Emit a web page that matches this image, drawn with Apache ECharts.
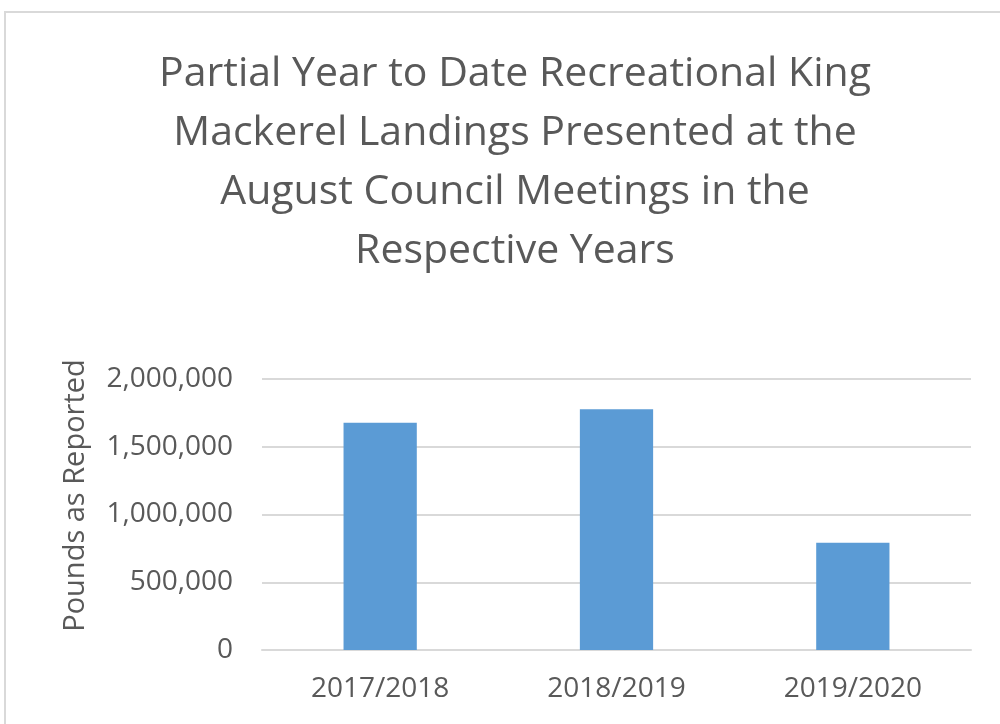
<!DOCTYPE html>
<html>
<head>
<meta charset="utf-8">
<script src="https://cdn.jsdelivr.net/npm/echarts@6/dist/echarts.min.js"></script>
<style>
html, body { margin: 0; padding: 0; background: #fff; }
#myChart { width: 1000px; height: 724px; }
</style>
</head>
<body>
<div id="myChart"></div>
<script>
// values
const seasons = ['2017/2018', '2018/2019', '2019/2020'];
const poundsReported = [1677000, 1776000, 792000];
const yTicks = { min: 0, max: 2000000, interval: 500000 };

const gray = '#595959';
const font = '"Open Sans", "Liberation Sans", sans-serif';

const myChart = echarts.init(document.getElementById('myChart'));
const option = {
    backgroundColor: '#fff',
    title: {
        text: 'Partial Year to Date Recreational King\nMackerel Landings Presented at the\nAugust Council Meetings in the\nRespective Years',
        left: 510,
        top: 40,
        textAlign: 'center',
        textStyle: {
            color: gray,
            fontFamily: font,
            fontWeight: 'normal',
            fontSize: 41,
            lineHeight: 59
        }
    },
    graphic: [{
        type: 'rect',
        shape: { x: 5, y: 12, width: 1010, height: 730 },
        style: { fill: 'none', stroke: '#d9d9d9', lineWidth: 2 },
        silent: true
    }],
    grid: {
        left: 262,
        right: 29,
        top: 379,
        bottom: 74
    },
    xAxis: {
        type: 'category',
        data: seasons,
        axisLine: { lineStyle: { color: '#d9d9d9', width: 2 } },
        axisTick: { show: false },
        axisLabel: {
            color: gray,
            fontFamily: font,
            fontSize: 28,
            margin: 25
        }
    },
    yAxis: {
        type: 'value',
        min: yTicks.min,
        max: yTicks.max,
        interval: yTicks.interval,
        name: 'Pounds as Reported',
        nameLocation: 'middle',
        nameGap: 172,
        nameTextStyle: {
            color: gray,
            fontFamily: font,
            fontSize: 29,
            padding: [0, 0, 0, 38]
        },
        axisLine: { show: false },
        axisTick: { show: false },
        axisLabel: {
            color: gray,
            fontFamily: font,
            fontSize: 28,
            margin: 29,
            formatter: v => v.toLocaleString('en-US')
        },
        splitLine: {
            lineStyle: { color: '#d9d9d9', width: 2 }
        }
    },
    series: [{
        type: 'bar',
        data: poundsReported,
        barWidth: '31%',
        itemStyle: { color: '#5b9bd5' }
    }]
};
myChart.setOption(option);
</script>
</body>
</html>
